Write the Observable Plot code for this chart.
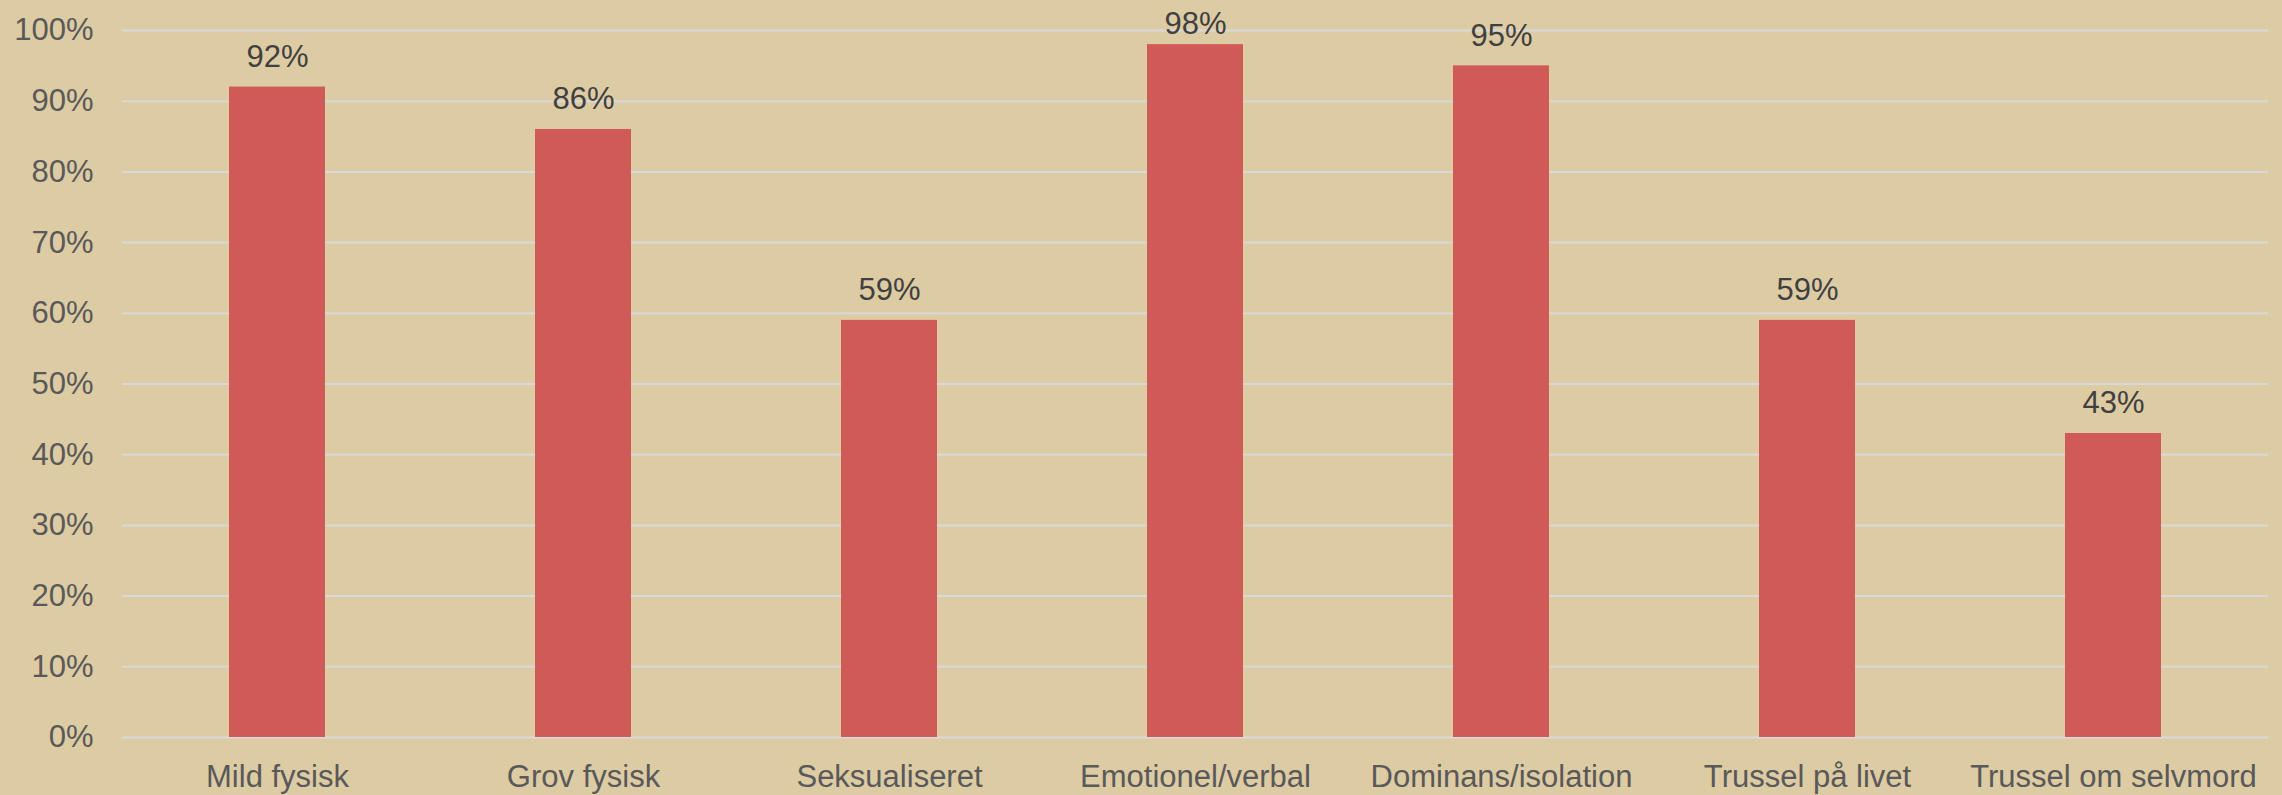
<!DOCTYPE html>
<html>
<head>
<meta charset="utf-8">
<script src="https://cdn.jsdelivr.net/npm/d3@7"></script>
<script src="https://cdn.jsdelivr.net/npm/@observablehq/plot@0.6"></script>
<style>
  html, body { margin: 0; padding: 0; background: #DDCBA4; }
  #chart svg { display: block; }
</style>
</head>
<body>
<div id="chart"></div>
<script>
const categories = ["Mild fysisk", "Grov fysisk", "Seksualiseret", "Emotionel/verbal", "Dominans/isolation", "Trussel på livet", "Trussel om selvmord"];
const values = [92, 86, 59, 98, 95, 59, 43];
const yTicks = [0, 10, 20, 30, 40, 50, 60, 70, 80, 90, 100];

const data = categories.map((c, i) => ({category: c, value: values[i]}));

const chart = Plot.plot({
  width: 2282,
  height: 795,
  marginLeft: 122,
  marginRight: 14,
  marginTop: 30,
  marginBottom: 58,
  style: {background: "#DDCBA4", fontFamily: "'Liberation Sans', Arial, sans-serif", fontSize: "31px"},
  x: {domain: categories, paddingInner: 0.687, paddingOuter: 0.3435, label: null},
  y: {domain: [0, 100], label: null},
  marks: [
    Plot.ruleY(yTicks, {stroke: "#D9D9D9", strokeWidth: 2}),
    Plot.barY(data, {x: "category", y: "value", fill: "#D05A57"}),
    Plot.text(data, {filter: d => d.value <= 96, x: "category", y: "value", text: d => d.value + "%", dy: -30, fill: "#404040", fontSize: 31}),
    Plot.text(data, {filter: d => d.value > 96, x: "category", y: "value", text: d => d.value + "%", dy: -21, fill: "#404040", fontSize: 31}),
    Plot.axisY(yTicks, {tickSize: 0, tickPadding: 29, tickFormat: d => d + "%", fill: "#595959", fontSize: 31, label: null}),
    Plot.axisX({tickSize: 0, tickPadding: 27, fill: "#595959", fontSize: 31, label: null})
  ]
});
document.getElementById("chart").appendChild(chart);
</script>
</body>
</html>
